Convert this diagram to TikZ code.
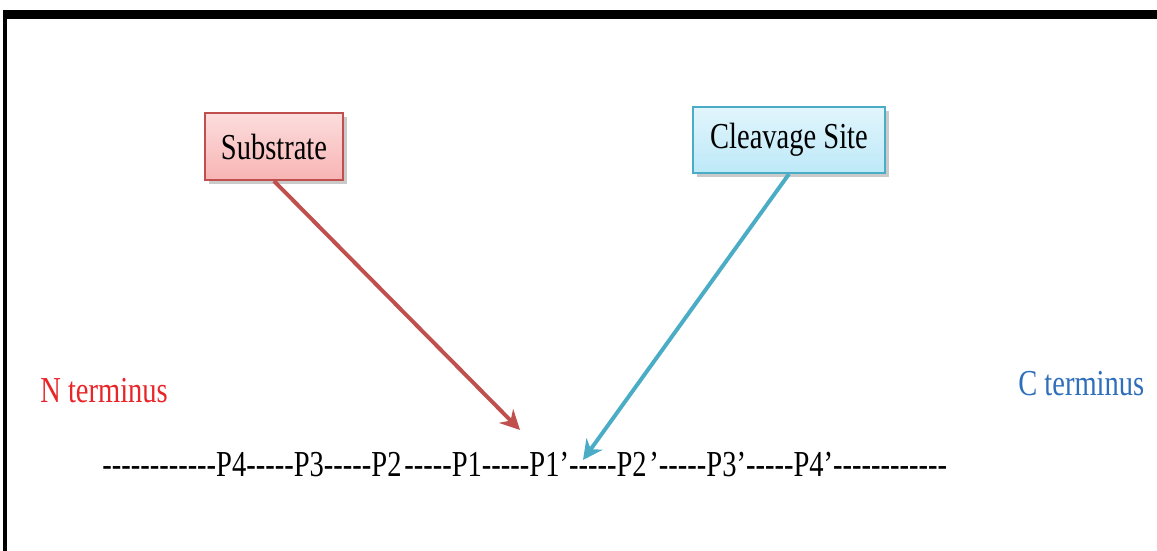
\documentclass[tikz,border=0pt]{standalone}
\usepackage{fontspec}
\setmainfont[FakeStretch=0.78]{Liberation Serif}
\usetikzlibrary{arrows.meta,positioning,shadows}
\definecolor{subred}{HTML}{C0504D}
\definecolor{subfill}{HTML}{F8B4B4}
\definecolor{cleavblue}{HTML}{4BACC6}
\definecolor{cleavfill}{HTML}{BDE9F8}
\definecolor{nred}{HTML}{E8262A}
\definecolor{cblue}{HTML}{2F6EBA}
\newcommand\hyph[1]{\foreach\k in {1,...,#1}{\mbox{-}}}

\begin{document}
\begin{tikzpicture}[x=0.025cm,y=-0.025cm]
    % Stili
    \tikzset{
        callout/.style={rectangle, draw, line width=1.4pt, text centered, font=\fontsize{26}{30}\selectfont,
            drop shadow={shadow xshift=3pt, shadow yshift=-3pt, opacity=0.35, fill=black!60}},
        termtext/.style={inner sep=0pt, font=\fontsize{26}{30}\selectfont},
        seqtext/.style={inner sep=0pt, font=\fontsize{26}{30}\selectfont},
        pointer/.style={-{Stealth[length=14pt, width=14pt]}, line width=2.8pt}
    }
    \useasboundingbox (0,0) rectangle (1157,551);

    % Cornice
    \draw[line width=6.4pt] (3,14.5) -- (1157,14.5);
    \draw[line width=2.8pt] (5,10) -- (5,551);

    % Riquadri
    \node[callout, draw=subred, top color=subfill!45, bottom color=subfill, minimum width=3.45cm, minimum height=1.675cm] (substrate) at (274,146.5) {Substrate};
    \node[callout, draw=cleavblue, top color=cleavfill!45, bottom color=cleavfill, minimum width=4.8cm, minimum height=1.65cm] (cleavage) at (789,140) {Cleavage Site};

    % Terminali
    \node[termtext, text=nred, anchor=base west] (nterm) at (40,402) {N terminus};
    \node[termtext, text=cblue, anchor=base west] (cterm) at (1018,395) {C terminus};

    % Sequenza
    \node[seqtext, anchor=base west] (seq) at (102,476) {\hyph{12}P4\hyph{5}P3\hyph{5}P2\kern2pt\hyph{5}P1\hyph{5}P1’\hyph{5}P2\kern2pt’\hyph{5}P3’\hyph{5}P4’\hyph{12}};
    \coordinate (subtip) at (520,430);
    \coordinate (cleavtip) at (583,460);

    % Frecce
    \draw[pointer, subred] (substrate.south) -- (subtip);
    \draw[pointer, cleavblue] (cleavage.south) -- (cleavtip);
\end{tikzpicture}
\end{document}
